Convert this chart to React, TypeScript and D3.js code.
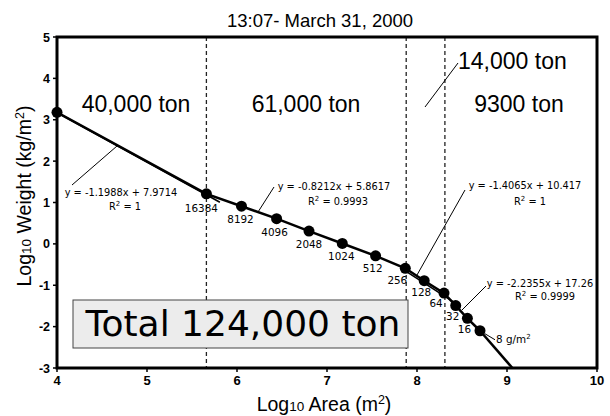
import * as d3 from 'd3'

// log10 area (m^2) and log10 weight (kg/m^2) of each halving step
const areaLog = [4.0, 5.66, 6.05, 6.44, 6.8, 7.17, 7.54, 7.87, 8.08, 8.3, 8.43, 8.56, 8.7]
const weightLog = [3.18, 1.21, 0.91, 0.61, 0.31, 0.01, -0.29, -0.59, -0.89, -1.19, -1.49, -1.8, -2.1]
const pointLabels = ['', '16384', '8192', '4096', '2048', '1024', '512', '256', '128', '64', '32', '16', '']
const lineEnd = [9.06, -3]

const boundaries = [5.66, 7.88, 8.31]
const regionLabels = ['40,000 ton', '61,000 ton', '14,000 ton', '9300 ton']

const slopes = [-1.1988, -0.8212, -1.4065, -2.2355]
const intercepts = [7.9714, 5.8617, 10.417, 17.26]
const r2 = ['1', '0.9993', '1', '0.9999']

const xTicks = [4, 5, 6, 7, 8, 9, 10]
const yTicks = [-3, -2, -1, 0, 1, 2, 3, 4, 5]

// layout (pixels)
const labelOffsets = [[0, 0], [-5, 18], [-1, 17], [-2, 17], [0, 17], [-1, 17], [-3, 16], [-8, 16], [-3, 15], [-8, 14], [-3, 14], [-3, 15]]
const eqPos = [[121, 196, 125, 210], [334, 190, 338, 205], [525, 189, 530, 205], [540, 287, 545, 300]]
const eqLeaders = [[72, 185, 117, 146], [274, 187, 258, 212], [465, 190, 417, 275], [486, 286, 462, 310]]
const regionPos: [number, number, string][] = [[136, 112, 'middle'], [306, 112, 'middle'], [458, 69, 'start'], [519, 112, 'middle']]
const stubs = [[4, 5.81, 0], [7.87, 8.4, 2]]

const helv = '"Liberation Sans", Arial, Helvetica, sans-serif'
const lucida = '"DejaVu Sans", Verdana, sans-serif'

export default function App() {
  const width = 610, height = 416
  const x = d3.scaleLinear().domain([4, 10]).range([57, 597])
  const y = d3.scaleLinear().domain([-3, 5]).range([368, 37])

  const pts: [number, number][] = areaLog.map((a, i) => [a, weightLog[i]])
  const line = d3.line<[number, number]>().x(d => x(d[0])).y(d => y(d[1]))
  const last = pts[pts.length - 1]

  return (
    <svg width={width} height={height} style={{ position: 'absolute', left: 0, top: 0, background: '#fff' }}>
      <text x={320} y={27} textAnchor="middle" fontFamily={helv} fontSize={18.5}>13:07- March 31, 2000</text>

      {/* region boundaries */}
      {boundaries.map((b, i) => (
        <line key={i} x1={x(b)} x2={x(b)} y1={y(5)} y2={y(-3)} stroke="#222" strokeWidth={1.3} strokeDasharray="4 3" />
      ))}

      {/* total box */}
      <rect x={73} y={300} width={335} height={48} fill="#ececec" stroke="#444" strokeWidth={1} />
      <text x={243} y={336} textAnchor="middle" fontFamily={lucida} fontSize={36}>Total 124,000 ton</text>

      {regionLabels.map((t, i) => (
        <text key={t} x={regionPos[i][0]} y={regionPos[i][1]} textAnchor={regionPos[i][2]} fontFamily={helv} fontSize={23}>{t}</text>
      ))}
      <line x1={425} y1={107} x2={458} y2={63} stroke="#000" strokeWidth={1} />

      {/* fitted stubs */}
      {stubs.map(([a, b, k], i) => (
        <line key={i} x1={x(a)} x2={x(b)} y1={y(slopes[k] * a + intercepts[k])} y2={y(slopes[k] * b + intercepts[k])}
          stroke="#000" strokeWidth={1.6} />
      ))}

      {/* data line */}
      <path d={line(pts) || ''} fill="none" stroke="#000" strokeWidth={2.5} />
      <line x1={x(last[0])} y1={y(last[1])} x2={x(lineEnd[0])} y2={y(lineEnd[1])} stroke="#000" strokeWidth={2.5} />
      {pts.map((p, i) => (
        <circle key={i} cx={x(p[0])} cy={y(p[1])} r={5.5} fill="#000" />
      ))}

      {pointLabels.map((t, i) => t && (
        <text key={i} x={x(areaLog[i]) + labelOffsets[i][0]} y={y(weightLog[i]) + labelOffsets[i][1]}
          textAnchor="middle" fontFamily={lucida} fontSize={10.4}>{t}</text>
      ))}
      <line x1={x(last[0]) + 5} y1={y(last[1]) + 3} x2={x(last[0]) + 15} y2={y(last[1]) + 9} stroke="#000" strokeWidth={1} />
      <text x={x(last[0]) + 16} y={y(last[1]) + 12} fontFamily={lucida} fontSize={10.4}>
        8 g/m<tspan fontSize={7} dy={-4}>2</tspan>
      </text>

      {/* equations */}
      {slopes.map((s, i) => (
        <g key={i}>
          <line x1={eqLeaders[i][0]} y1={eqLeaders[i][1]} x2={eqLeaders[i][2]} y2={eqLeaders[i][3]} stroke="#000" strokeWidth={1} />
          <text x={eqPos[i][0]} y={eqPos[i][1]} textAnchor="middle" fontFamily={lucida} fontSize={9.8}>
            {`y = ${s}x + ${intercepts[i]}`}
          </text>
          <text x={eqPos[i][2]} y={eqPos[i][3]} textAnchor="middle" fontFamily={lucida} fontSize={9.8}>
            R<tspan fontSize={7} dy={-4}>2</tspan><tspan dy={4}>{` = ${r2[i]}`}</tspan>
          </text>
        </g>
      ))}

      {/* frame */}
      <rect x={57} y={37} width={540} height={331} fill="none" stroke="#000" strokeWidth={3} />

      {/* axes ticks */}
      {yTicks.map(t => (
        <g key={t}>
          <line x1={53} x2={57} y1={y(t)} y2={y(t)} stroke="#000" strokeWidth={1.5} />
          <text x={50} y={y(t) + 4.5} textAnchor="end" fontFamily={helv} fontWeight="bold" fontSize={12.5}>{t}</text>
        </g>
      ))}
      {xTicks.map(t => (
        <g key={t}>
          <line x1={x(t)} x2={x(t)} y1={368} y2={372} stroke="#000" strokeWidth={1.5} />
          <text x={x(t)} y={385} textAnchor="middle" fontFamily={helv} fontWeight="bold" fontSize={13}>{t}</text>
        </g>
      ))}

      <text x={324} y={411} textAnchor="middle" fontFamily={helv} fontSize={19.5}>
        Log<tspan fontSize={13.5}>10</tspan> Area (m<tspan fontSize={12.5} dy={-7}>2</tspan><tspan dy={7}>)</tspan>
      </text>
      <text transform="translate(31,196) rotate(-90)" textAnchor="middle" fontFamily={helv} fontSize={19.5}>
        Log<tspan fontSize={13.5}>10</tspan> Weight (kg/m<tspan fontSize={12.5} dy={-7}>2</tspan><tspan dy={7}>)</tspan>
      </text>
    </svg>
  )
}
